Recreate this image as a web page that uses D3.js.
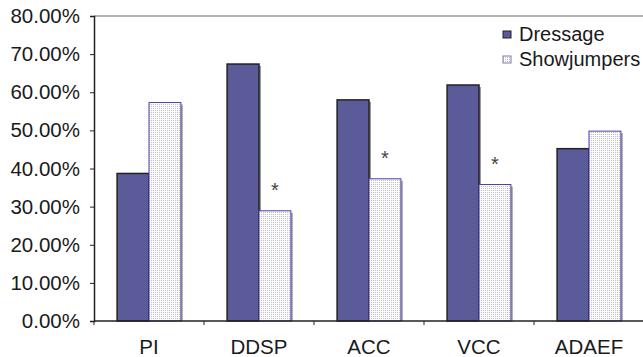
<!DOCTYPE html>
<html>
<head>
<meta charset="utf-8">
<script src="https://cdn.jsdelivr.net/npm/d3@7"></script>
<style>
  body { margin: 0; background: #fff; }
  text { font-family: "Liberation Sans", Arial, sans-serif; fill: #1a1a1a; }
</style>
</head>
<body>
<div id="chart"></div>
<script>
// data (percent)
var categories = ["PI", "DDSP", "ACC", "VCC", "ADAEF"];
var dressage = [38.7, 67.4, 58.0, 61.9, 45.2];
var showjumpers = [57.3, 28.9, 37.3, 35.8, 49.8];
var significant = [false, true, true, true, false];
var yTicks = [0, 10, 20, 30, 40, 50, 60, 70, 80];
var seriesNames = ["Dressage", "Showjumpers"];

var svgWidth = 643;
var svgHeight = 357;
var margin = { top: 16, right: -1, bottom: 36, left: 94 };
var width = svgWidth - margin.left - margin.right;
var height = svgHeight - margin.top - margin.bottom;

var svg = d3.select("#chart")
  .append("svg")
  .attr("width", svgWidth)
  .attr("height", svgHeight);

// dotted fill for showjumpers
var defs = svg.append("defs");
var pat = defs.append("pattern")
  .attr("id", "dots")
  .attr("patternUnits", "userSpaceOnUse")
  .attr("width", 2)
  .attr("height", 2);
pat.append("rect").attr("width", 2).attr("height", 2).attr("fill", "#fff");
pat.append("rect").attr("width", 1).attr("height", 1).attr("fill", "#b8b8c4");

var chartGroup = svg.append("g")
  .attr("transform", `translate(${margin.left}, ${margin.top})`);

var x0 = d3.scaleBand()
  .domain(categories)
  .range([0, width])
  .paddingInner(0.42)
  .paddingOuter(0.21);

var x1 = d3.scaleBand()
  .domain(seriesNames)
  .range([0, x0.bandwidth()]);

var y = d3.scaleLinear()
  .domain([0, 80])
  .range([height, 0]);

// top border
chartGroup.append("line")
  .attr("x1", 0).attr("x2", width)
  .attr("y1", 0).attr("y2", 0)
  .attr("stroke", "#999").attr("stroke-width", 1.5);

var rows = categories.map(function(c, i) {
  return { cat: c, d: dressage[i], s: showjumpers[i], sig: significant[i] };
});

var groups = chartGroup.selectAll(".grp")
  .data(rows)
  .enter()
  .append("g")
  .attr("transform", d => `translate(${x0(d.cat)}, 0)`);

// shadows
groups.append("rect")
  .attr("x", x1("Dressage") + 2)
  .attr("y", d => y(d.d) + 2)
  .attr("width", x1.bandwidth())
  .attr("height", d => height - y(d.d) - 2)
  .attr("fill", "#9a9a9a");
groups.append("rect")
  .attr("x", x1("Showjumpers") + 2)
  .attr("y", d => y(d.s) + 2)
  .attr("width", x1.bandwidth())
  .attr("height", d => height - y(d.s) - 2)
  .attr("fill", "#aaaaaa");

groups.append("rect")
  .attr("x", x1("Dressage"))
  .attr("y", d => y(d.d))
  .attr("width", x1.bandwidth())
  .attr("height", d => height - y(d.d))
  .attr("fill", "#5b5b9a")
  .attr("stroke", "#222")
  .attr("stroke-width", 1.5);

groups.append("rect")
  .attr("x", x1("Showjumpers"))
  .attr("y", d => y(d.s))
  .attr("width", x1.bandwidth())
  .attr("height", d => height - y(d.s))
  .attr("fill", "url(#dots)")
  .attr("stroke", "#4a3fa8")
  .attr("stroke-width", 1);

// asterisks
groups.filter(d => d.sig)
  .append("text")
  .attr("x", x1("Showjumpers") + x1.bandwidth() / 2)
  .attr("y", d => y(d.s) - 14)
  .attr("text-anchor", "middle")
  .style("font-size", "20px")
  .style("fill", "#444")
  .text("*");

// axes
var leftAxis = d3.axisLeft(y)
  .tickValues(yTicks)
  .tickSize(4)
  .tickPadding(10)
  .tickFormat(d => d.toFixed(2) + "%");

var yAxis = chartGroup.append("g").call(leftAxis);
yAxis.select(".domain").attr("stroke", "#222").attr("stroke-width", 1.5);
yAxis.selectAll(".tick line").attr("stroke", "#222");
yAxis.selectAll("text").style("font-size", "20.5px").style("fill", "#1a1a1a");

var xAxis = chartGroup.append("g")
  .attr("transform", `translate(0, ${height})`);
xAxis.append("line")
  .attr("x1", 0).attr("x2", width)
  .attr("stroke", "#222").attr("stroke-width", 1.5);
xAxis.selectAll(".xt")
  .data(d3.range(categories.length + 1))
  .enter()
  .append("line")
  .attr("x1", i => i * x0.step())
  .attr("x2", i => i * x0.step())
  .attr("y1", 0).attr("y2", 4)
  .attr("stroke", "#222");
xAxis.selectAll(".xl")
  .data(categories)
  .enter()
  .append("text")
  .attr("x", d => x0(d) + x0.bandwidth() / 2)
  .attr("y", 33)
  .attr("text-anchor", "middle")
  .style("font-size", "20.5px")
  .text(d => d);

// legend
var legend = svg.append("g").attr("transform", "translate(503, 31)");
legend.append("rect")
  .attr("width", 8).attr("height", 7)
  .attr("fill", "#5b5b9a").attr("stroke", "#222").attr("stroke-width", 1);
legend.append("text")
  .attr("x", 16).attr("y", 10)
  .style("font-size", "20px")
  .text(seriesNames[0]);
legend.append("rect")
  .attr("y", 25)
  .attr("width", 8).attr("height", 7)
  .attr("fill", "url(#dots)").attr("stroke", "#7a7ab0").attr("stroke-width", 1);
legend.append("text")
  .attr("x", 16).attr("y", 35)
  .style("font-size", "20px")
  .text(seriesNames[1]);
</script>
</body>
</html>
